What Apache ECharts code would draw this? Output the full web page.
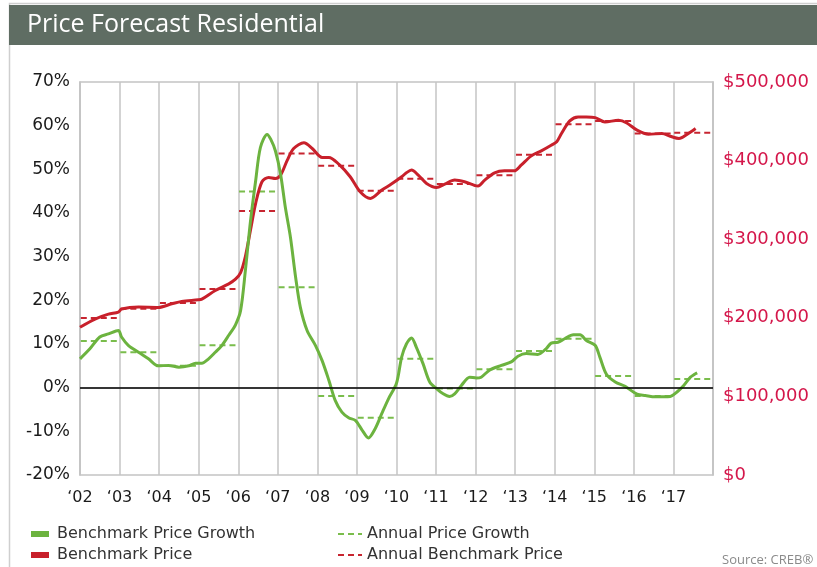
<!DOCTYPE html>
<html>
<head>
<meta charset="utf-8">
<title>Price Forecast Residential</title>
<script src="https://cdn.jsdelivr.net/npm/echarts@6/dist/echarts.min.js"></script>
<style>
  html, body { margin: 0; padding: 0; background: #fff; }
  #chart { width: 817px; height: 567px; }
</style>
</head>
<body>
<div id="chart"></div>
<script>
// benchmark price growth (%)
const growthYears = [2002.0, 2002.25, 2002.5, 2002.72, 2002.97, 2003.05, 2003.22, 2003.48, 2003.73, 2003.98,
  2004.24, 2004.5, 2004.75, 2004.92, 2005.08, 2005.25, 2005.42, 2005.59, 2005.76, 2005.93,
  2006.06, 2006.18, 2006.31, 2006.44, 2006.56, 2006.73, 2006.82, 2006.94, 2007.07, 2007.19,
  2007.32, 2007.45, 2007.57, 2007.74, 2007.95, 2008.12, 2008.29, 2008.45, 2008.62, 2008.79,
  2008.96, 2009.13, 2009.29, 2009.46, 2009.63, 2009.8, 2010.0, 2010.13, 2010.25, 2010.38,
  2010.5, 2010.67, 2010.84, 2011.01, 2011.18, 2011.34, 2011.47, 2011.64, 2011.85, 2012.02,
  2012.14, 2012.35, 2012.65, 2012.9, 2013.07, 2013.28, 2013.57, 2013.78, 2013.91, 2014.08,
  2014.25, 2014.47, 2014.64, 2014.8, 2015.02, 2015.14, 2015.31, 2015.53, 2015.78, 2016.08,
  2016.29, 2016.54, 2016.92, 2017.09, 2017.26, 2017.43, 2017.6];
const growthValues = [6.6, 8.9, 11.6, 12.3, 13.1, 11.6, 9.7, 8.1, 6.6, 5.0,
  5.1, 4.7, 5.0, 5.6, 5.6, 6.6, 8.1, 9.7, 12.0, 14.4,
  17.7, 26.8, 38.2, 47.4, 55.0, 58.0, 56.9, 54.2, 48.9, 41.3,
  34.4, 25.3, 18.4, 13.1, 9.7, 6.2, 1.7, -2.9, -5.6, -6.9,
  -7.5, -9.7, -11.5, -9.4, -5.9, -2.5, 1.0, 7.0, 10.0, 11.4,
  9.3, 5.5, 1.3, -0.2, -1.4, -2.0, -1.4, 0.5, 2.4, 2.2,
  2.4, 4.0, 5.1, 5.9, 7.2, 7.8, 7.6, 8.9, 10.2, 10.4,
  11.2, 12.1, 12.1, 10.8, 9.7, 7.0, 3.0, 1.3, 0.3, -1.5,
  -1.8, -2.1, -2.0, -1.0, 0.5, 2.4, 3.4];

// benchmark price ($)
const priceYears = [2002.0, 2002.38, 2002.72, 2002.97, 2003.05, 2003.48, 2003.98, 2004.32, 2004.57, 2004.99,
  2005.08, 2005.42, 2005.76, 2005.93, 2006.06, 2006.18, 2006.31, 2006.44, 2006.6, 2006.77,
  2006.94, 2007.07, 2007.24, 2007.4, 2007.66, 2007.87, 2008.12, 2008.29, 2008.54, 2008.83,
  2009.08, 2009.34, 2009.63, 2009.87, 2010.13, 2010.25, 2010.38, 2010.55, 2010.76, 2011.01,
  2011.22, 2011.47, 2011.72, 2012.06, 2012.23, 2012.48, 2012.73, 2012.98, 2013.15, 2013.4,
  2013.66, 2013.91, 2014.05, 2014.17, 2014.38, 2014.59, 2014.8, 2015.02, 2015.27, 2015.61,
  2015.82, 2016.08, 2016.37, 2016.71, 2016.92, 2017.14, 2017.35, 2017.56];
const priceValues = [188000, 198400, 204700, 207300, 211100, 213600, 213200, 217800, 220800, 222900,
  223800, 234800, 243200, 249100, 257600, 277900, 311800, 345600, 373100, 378600,
  377300, 381500, 400600, 415400, 422600, 415400, 404000, 404000, 395500, 379400,
  360400, 351900, 362500, 370100, 379400, 384500, 387900, 381500, 371000, 365900,
  370100, 375200, 373100, 367600, 375200, 384500, 387000, 387000, 394200, 405700,
  412400, 419600, 424000, 434400, 450500, 455600, 455600, 454700, 449200, 451300,
  447900, 438700, 433600, 434400, 431000, 428100, 433600, 440800];

// annual averages
const annualYears = [2002, 2003, 2004, 2005, 2006, 2007, 2008, 2009, 2010, 2011, 2012, 2013, 2014, 2015, 2016, 2017];
const annualGrowth = [10.7, 8.1, 5.0, 9.7, 44.9, 23.0, -1.9, -6.9, 6.6, -0.2, 4.2, 8.4, 11.2, 2.7, -1.9, 2.0];
const annualPrice = [199700, 211500, 218700, 236500, 335900, 409000, 393400, 361700,
  376900, 370100, 381500, 407300, 446300, 450500, 434400, 435300];

const xMin = 2002, xMax = 2018;

const GREEN = '#6cb33f';
const GREEN_DASH = '#7abd4c';
const RED = '#c8202b';
const RED_DASH = '#c72530';
const PINK = '#d4164a';
const GRID_GREY = '#c4c4c4';
const FONT = '"DejaVu Sans", sans-serif';

const zip = (xs, ys) => xs.map((x, i) => [x, ys[i]]);

// one flat segment per year, broken between years
const yearSegments = (vals) => {
  const out = [];
  annualYears.forEach((y, i) => {
    out.push([y + 0.02, vals[i]]);
    out.push([y + 0.95, vals[i]]);
    out.push([y + 0.97, '-']);
  });
  return out;
};

const chart = echarts.init(document.getElementById('chart'));

const option = {
  backgroundColor: '#ffffff',
  animation: false,
  graphic: [
    {
      type: 'rect',
      shape: { x: 9.5, y: 3.5, width: 820, height: 570 },
      style: { fill: 'none', stroke: '#cfcfcf', lineWidth: 1.5 },
      silent: true
    },
    {
      type: 'rect',
      shape: { x: 9, y: 5, width: 808, height: 40 },
      style: { fill: '#5f6d63' },
      silent: true
    },
    {
      type: 'text',
      left: 27,
      top: 12,
      style: {
        text: 'Price Forecast Residential',
        fill: '#ffffff',
        font: '25px "Open Sans", sans-serif'
      },
      silent: true
    },
    {
      type: 'text',
      left: 722,
      top: 554,
      style: {
        text: 'Source: CREB\u00ae',
        fill: '#8a8a8a',
        font: '13px "Open Sans", sans-serif'
      },
      silent: true
    }
  ],
  legend: [
    {
      orient: 'vertical',
      left: 31,
      top: 526,
      padding: 0,
      itemGap: 5,
      itemWidth: 18,
      itemHeight: 6,
      textStyle: { color: '#333', fontSize: 16, fontFamily: FONT, padding: [0, 0, 0, 3] },
      data: [
        { name: 'Benchmark Price Growth', icon: 'rect' },
        { name: 'Benchmark Price', icon: 'rect' }
      ]
    },
    {
      orient: 'vertical',
      left: 337,
      top: 526,
      padding: 0,
      itemGap: 5,
      itemWidth: 24,
      itemHeight: 6,
      itemStyle: { opacity: 0 },
      textStyle: { color: '#333', fontSize: 16, fontFamily: FONT },
      data: ['Annual Price Growth', 'Annual Benchmark Price']
    }
  ],
  grid: {
    left: 80,
    right: 104,
    top: 82,
    bottom: 92,
    show: true,
    borderColor: GRID_GREY,
    borderWidth: 1.5
  },
  xAxis: {
    type: 'value',
    min: xMin,
    max: xMax,
    interval: 1,
    axisLine: { show: true, lineStyle: { color: GRID_GREY, width: 1.5 } },
    axisTick: { show: false },
    axisLabel: {
      color: '#1a1a1a',
      fontSize: 16,
      fontFamily: FONT,
      margin: 15,
      formatter: (v) => (v >= xMax ? '' : '\u2018' + String(v).slice(2))
    },
    splitLine: { show: true, lineStyle: { color: GRID_GREY, width: 1.5 } }
  },
  yAxis: [
    {
      type: 'value',
      min: -20,
      max: 70,
      interval: 10,
      axisLine: { show: true, lineStyle: { color: GRID_GREY, width: 1.5 } },
      axisTick: { show: false },
      splitLine: { show: false },
      axisLabel: {
        color: '#1a1a1a',
        fontSize: 17,
        fontFamily: FONT,
        margin: 10,
        formatter: '{value}%'
      }
    },
    {
      type: 'value',
      min: 0,
      max: 500000,
      interval: 100000,
      position: 'right',
      axisLine: { show: true, lineStyle: { color: GRID_GREY, width: 1.5 } },
      axisTick: { show: false },
      splitLine: { show: false },
      axisLabel: {
        color: PINK,
        fontSize: 18,
        fontFamily: FONT,
        margin: 10,
        formatter: (v) => '$' + v.toLocaleString('en-US')
      }
    }
  ],
  series: [
    {
      name: 'Annual Price Growth',
      type: 'line',
      yAxisIndex: 0,
      data: yearSegments(annualGrowth),
      symbol: 'none',
      connectNulls: false,
      color: GREEN_DASH,
      lineStyle: { color: GREEN_DASH, width: 2, type: [6, 4] },
      z: 2,
      markLine: {
        silent: true,
        symbol: 'none',
        label: { show: false },
        lineStyle: { color: '#000000', width: 1.5, type: 'solid' },
        data: [{ yAxis: 0 }]
      }
    },
    {
      name: 'Annual Benchmark Price',
      type: 'line',
      yAxisIndex: 1,
      data: yearSegments(annualPrice),
      symbol: 'none',
      connectNulls: false,
      color: RED_DASH,
      lineStyle: { color: RED_DASH, width: 2, type: [6, 4] },
      z: 2
    },
    {
      name: 'Benchmark Price',
      type: 'line',
      yAxisIndex: 1,
      data: zip(priceYears, priceValues),
      symbol: 'none',
      smooth: 0.3,
      color: RED,
      lineStyle: { color: RED, width: 3 },
      z: 3
    },
    {
      name: 'Benchmark Price Growth',
      type: 'line',
      yAxisIndex: 0,
      data: zip(growthYears, growthValues),
      symbol: 'none',
      smooth: 0.3,
      color: GREEN,
      lineStyle: { color: GREEN, width: 3 },
      z: 4
    }
  ]
};

chart.setOption(option);
window.addEventListener('resize', () => chart.resize());
</script>
</body>
</html>
